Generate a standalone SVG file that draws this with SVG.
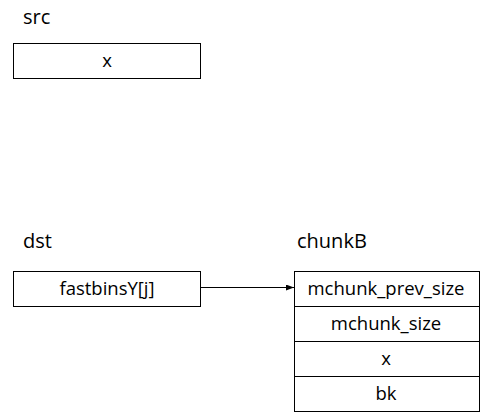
<svg xmlns="http://www.w3.org/2000/svg" width="490" height="418" viewBox="0 0 490 418">
<style>
text{font-family:"Open Sans","Noto Sans","Liberation Sans",sans-serif;font-size:18.5px;fill:#000}
.t{font-size:20px}
.c{text-anchor:middle}
.b{fill:#fff;stroke:#000;stroke-width:1}
line{stroke:#000;stroke-width:1}
</style>
<defs><marker id="ah" markerWidth="8" markerHeight="6" refX="8" refY="3" orient="auto" markerUnits="userSpaceOnUse"><path d="M0,0L8,3L0,6z" fill="#000"/></marker></defs>
<rect width="490" height="418" fill="#fff"/>
<g id="src"><text class="t" x="23" y="24">src</text><rect class="b" x="13.5" y="43.5" width="187" height="35"/><text class="c" x="107" y="67">x</text></g>
<g id="dst"><text class="t" x="23" y="248">dst</text><rect class="b" x="13.5" y="271.5" width="187" height="35"/><text class="c" x="107" y="295">fastbinsY[j]</text></g>
<g id="chunkB"><text class="t" x="297" y="248">chunkB</text>
<rect class="b" x="294.5" y="271.5" width="185" height="35"/><text class="c" x="386" y="295">mchunk_prev_size</text>
<rect class="b" x="294.5" y="306.5" width="185" height="35"/><text class="c" x="386" y="330">mchunk_size</text>
<rect class="b" x="294.5" y="341.5" width="185" height="35"/><text class="c" x="386" y="365">x</text>
<rect class="b" x="294.5" y="376.5" width="185" height="35"/><text class="c" x="386" y="400">bk</text></g>
<g id="connectors"><line x1="200.5" y1="287.5" x2="294" y2="287.5" marker-end="url(#ah)"/></g>
</svg>
